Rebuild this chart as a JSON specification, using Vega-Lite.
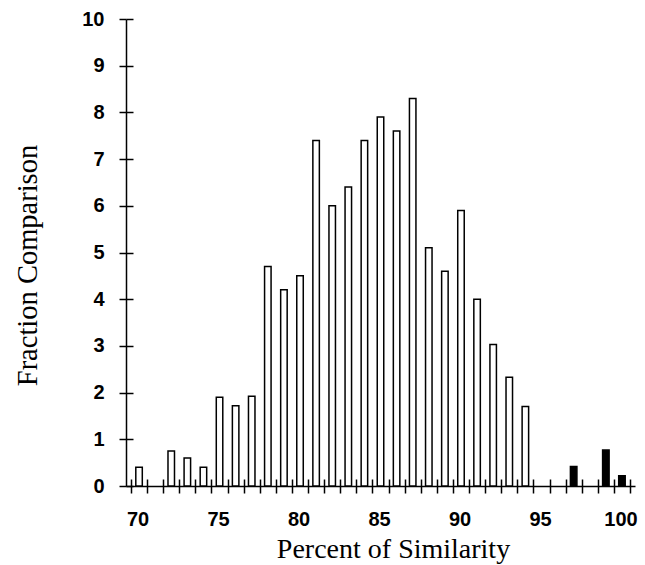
{
  "$schema": "https://vega.github.io/schema/vega-lite/v6.json",
  "width": 509,
  "height": 467,
  "autosize": {"type": "none"},
  "padding": {"left": 126, "top": 19, "right": 10, "bottom": 79},
  "background": "white",
  "config": {
    "view": {"stroke": null},
    "axis": {
      "domainColor": "black",
      "domainWidth": 1.5,
      "tickColor": "black",
      "tickWidth": 1.5,
      "grid": false,
      "labelFont": "Liberation Sans",
      "labelFontWeight": "bold",
      "labelFontSize": 20,
      "labelColor": "black",
      "titleFont": "Liberation Serif",
      "titleFontWeight": "normal",
      "titleColor": "black",
      "labelOverlap": false,
      "labelFlush": false
    }
  },
  "data": {
    "values": [
      {"pct": 70, "frac": 0.4, "group": "A"},
      {"pct": 72, "frac": 0.75, "group": "A"},
      {"pct": 73, "frac": 0.6, "group": "A"},
      {"pct": 74, "frac": 0.4, "group": "A"},
      {"pct": 75, "frac": 1.9, "group": "A"},
      {"pct": 76, "frac": 1.72, "group": "A"},
      {"pct": 77, "frac": 1.92, "group": "A"},
      {"pct": 78, "frac": 4.7, "group": "A"},
      {"pct": 79, "frac": 4.2, "group": "A"},
      {"pct": 80, "frac": 4.5, "group": "A"},
      {"pct": 81, "frac": 7.4, "group": "A"},
      {"pct": 82, "frac": 6.0, "group": "A"},
      {"pct": 83, "frac": 6.4, "group": "A"},
      {"pct": 84, "frac": 7.4, "group": "A"},
      {"pct": 85, "frac": 7.9, "group": "A"},
      {"pct": 86, "frac": 7.6, "group": "A"},
      {"pct": 87, "frac": 8.3, "group": "A"},
      {"pct": 88, "frac": 5.1, "group": "A"},
      {"pct": 89, "frac": 4.6, "group": "A"},
      {"pct": 90, "frac": 5.9, "group": "A"},
      {"pct": 91, "frac": 4.0, "group": "A"},
      {"pct": 92, "frac": 3.03, "group": "A"},
      {"pct": 93, "frac": 2.33, "group": "A"},
      {"pct": 94, "frac": 1.7, "group": "A"},
      {"pct": 97, "frac": 0.42, "group": "B"},
      {"pct": 99, "frac": 0.77, "group": "B"},
      {"pct": 100, "frac": 0.22, "group": "B"}
    ]
  },
  "layer": [
    {
      "mark": {"type": "bar", "size": 6.5, "stroke": "black", "strokeWidth": 1.5},
      "encoding": {
        "x": {
          "field": "pct",
          "type": "quantitative",
          "scale": {"domain": [69.5, 100.5], "nice": false, "zero": false},
          "axis": {
            "orient": "bottom",
            "values": [69.5, 70.5, 71.5, 72.5, 73.5, 74.5, 75.5, 76.5, 77.5, 78.5, 79.5, 80.5, 81.5, 82.5, 83.5, 84.5, 85.5, 86.5, 87.5, 88.5, 89.5, 90.5, 91.5, 92.5, 93.5, 94.5, 95.5, 96.5, 97.5, 98.5, 99.5, 100.5],
            "labelExpr": "(datum.value - 0.5) % 5 == 0 ? format(datum.value - 0.5, 'd') : ''",
            "labelOffset": -9.5,
            "tickSize": 7,
            "labelPadding": 16,
            "title": "Percent of Similarity",
            "titleFontSize": 28,
            "titlePadding": 6,
            "titleX": 267
          }
        },
        "y": {
          "field": "frac",
          "type": "quantitative",
          "scale": {"domain": [0, 10], "nice": false},
          "axis": {
            "orient": "left",
            "values": [0, 1, 2, 3, 4, 5, 6, 7, 8, 9, 10],
            "tickSize": 7,
            "labelPadding": 15,
            "title": "Fraction Comparison",
            "titleFontSize": 28.5,
            "titlePadding": 39,
            "titleY": 246
          }
        },
        "fill": {
          "field": "group",
          "type": "nominal",
          "scale": {"domain": ["A", "B"], "range": ["white", "black"]},
          "legend": null
        }
      }
    },
    {
      "mark": {"type": "bar", "size": 6.5, "opacity": 0},
      "encoding": {
        "x": {
          "field": "pct",
          "type": "quantitative",
          "axis": {
            "orient": "bottom",
            "values": [69.5, 70.5, 71.5, 72.5, 73.5, 74.5, 75.5, 76.5, 77.5, 78.5, 79.5, 80.5, 81.5, 82.5, 83.5, 84.5, 85.5, 86.5, 87.5, 88.5, 89.5, 90.5, 91.5, 92.5, 93.5, 94.5, 95.5, 96.5, 97.5, 98.5, 99.5, 100.5],
            "tickSize": -7,
            "labels": false,
            "domain": false,
            "title": null
          }
        },
        "y": {
          "field": "frac",
          "type": "quantitative",
          "axis": {
            "orient": "left",
            "values": [0, 1, 2, 3, 4, 5, 6, 7, 8, 9, 10],
            "tickSize": -7,
            "labels": false,
            "domain": false,
            "title": null
          }
        }
      }
    }
  ],
  "resolve": {"axis": {"x": "independent", "y": "independent"}}
}
